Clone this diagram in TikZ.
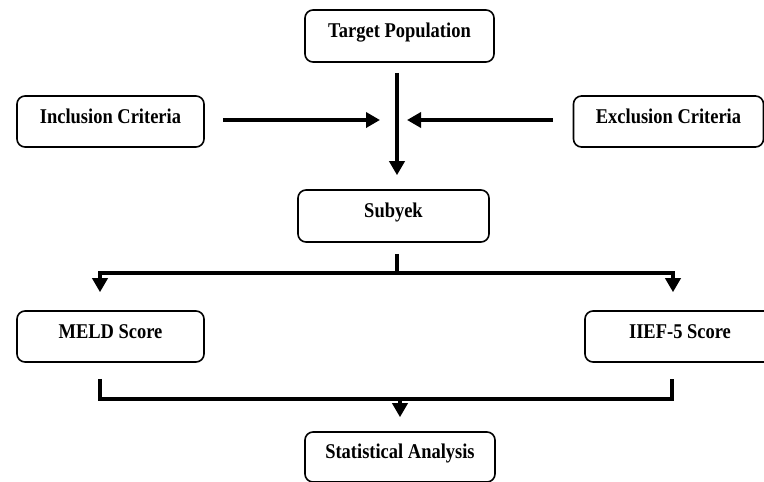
\documentclass[tikz,border=0pt]{standalone}
\usepackage{fontspec}
\setmainfont{Liberation Serif}[FakeStretch=0.88]
\usepackage{tikz}
\usetikzlibrary{arrows.meta}

\begin{document}
\begin{tikzpicture}[x=1pt, y=-1pt,
        box/.style={draw, line width=1.6pt, rounded corners=8pt, fill=white,
            font=\fontsize{21}{24}\selectfont\bfseries,
            text height=0.72em, text depth=0.42em, inner sep=0pt},
        flow/.style={line width=4pt},
        arr/.style={line width=4pt, -{Triangle[length=14pt, width=15pt]}}]
        \useasboundingbox (0,0) rectangle (764,482);

        % boxes
        % -----
        \node[box, minimum width=189pt, minimum height=52pt] (target) at (399.5,36) {Target Population};
        \node[box, minimum width=187pt, minimum height=51pt] (incl) at (110.5,121.5) {Inclusion Criteria};
        \node[box, minimum width=190pt, minimum height=51pt] (excl) at (668.5,121.5) {Exclusion Criteria};
        \node[box, minimum width=191pt, minimum height=52pt] (subyek) at (393.5,216) {Subyek};
        \node[box, minimum width=187pt, minimum height=51pt] (meld) at (110.5,336.5) {MELD Score};
        \node[box, minimum width=190pt, minimum height=51pt] (iief) at (680,336.5) {IIEF-5 Score};
        \node[box, minimum width=190pt, minimum height=50pt] (stat) at (400,457) {Statistical Analysis};

        % joints
        \coordinate (join) at (397,120);
        \coordinate (split) at (397,273);
        \coordinate (merge) at (400,399);

        % top part: population and criteria
        % ---------------------------------
        \draw[arr, shorten <=10pt, shorten >=14pt] (target.south -| join) -- (subyek.north -| join);
        \draw[arr, shorten <=18pt, shorten >=17pt] (incl.east |- join) -- (join);
        \draw[arr, shorten <=20pt, shorten >=10pt] (excl.west |- join) -- (join);

        % middle part: subjects to scores
        % -------------------------------
        \draw[flow] ([yshift=-11pt]subyek.south -| split) -- (split);
        \draw[arr, shorten >=18pt] (split) -| ([xshift=-10.5pt]meld.north);
        \draw[arr, shorten >=18pt] (split) -| ([xshift=-7pt]iief.north);

        % bottom part: scores to analysis
        % -------------------------------
        \draw[flow] ([xshift=-10.5pt, yshift=-16pt]meld.south) |- (merge)
            -| ([xshift=-8pt, yshift=-16pt]iief.south);
        \draw[arr, shorten >=14pt] (merge) -- (stat.north -| merge);

    \end{tikzpicture}
\end{document}
